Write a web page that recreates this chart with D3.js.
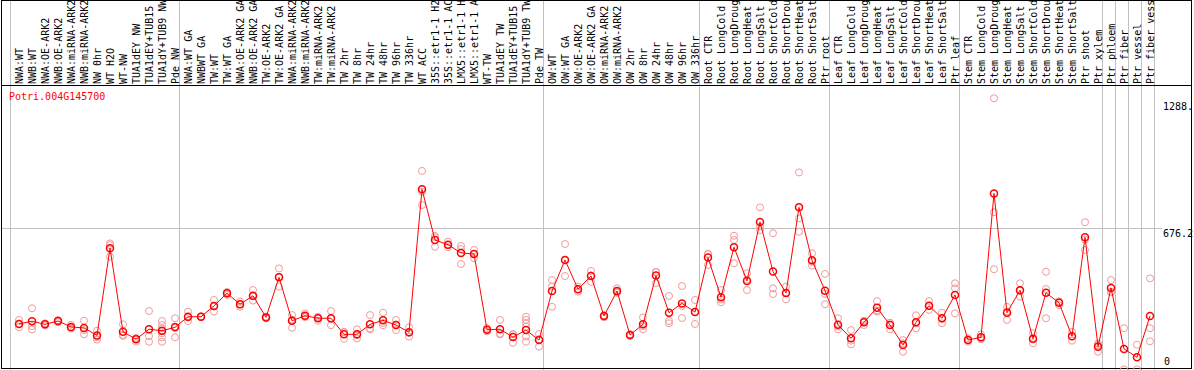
<!DOCTYPE html>
<html>
<head>
<meta charset="utf-8">
<script src="https://cdn.jsdelivr.net/npm/d3@7"></script>
<style>
  body { margin: 0; background: #fff; }
  svg { display: block; }
  text { font-family: "DejaVu Sans Mono", "Liberation Mono", monospace; font-size: 10px; }
</style>
</head>
<body>
<script>
var geneName = "Potri.004G145700";

var samples = [
  "NWA:WT", "NWB:WT", "NWA:OE-ARK2", "NWB:OE-ARK2", "NWA:miRNA-ARK2", "NWB:miRNA-ARK2", "NW 0hr", "WT H2O", "WT-NW",
  "TUA1dEY NW", "TUA1dEY+TUB15", "TUA1dY+TUB9 NW", "Pde NW",
  "NWA:WT GA", "NWBWT GA", "TW:WT", "TW:WT GA", "NWA:OE-ARK2 GA", "NWB:OE-ARK2 GA", "TW:OE-ARK2", "TW:OE-ARK2 GA",
  "NWA:miRNA-ARK2", "NWB:miRNA-ARK2", "TW:miRNA-ARK2", "TW:miRNA-ARK2", "TW 2hr", "TW 8hr", "TW 24hr", "TW 48hr",
  "TW 96hr", "TW 336hr", "WT ACC", "35S::etr1-1 H2O", "35S::etr1-1 ACC", "LMX5::etr1-1 H2O", "LMX5::etr1-1 ACC",
  "WT-TW", "TUA1dEY TW", "TUA1dEY+TUB15", "TUA1dY+TUB9 TW", "Pde TW",
  "OW:WT", "OW:WT GA", "OW:OE-ARK2", "OW:OE-ARK2 GA", "OW:miRNA-ARK2", "OW:miRNA-ARK2", "OW 2hr", "OW 8hr",
  "OW 24hr", "OW 48hr", "OW 96hr", "OW 336hr",
  "Root CTR", "Root LongCold", "Root LongDrought", "Root LongHeat", "Root LongSalt", "Root ShortCold",
  "Root ShortDrought", "Root ShortHeat", "Root ShortSalt", "Ptr root",
  "Leaf CTR", "Leaf LongCold", "Leaf LongDrought", "Leaf LongHeat", "Leaf LongSalt", "Leaf ShortCold",
  "Leaf ShortDrought", "Leaf ShortHeat", "Leaf ShortSalt", "Ptr leaf",
  "Stem CTR", "Stem LongCold", "Stem LongDrought", "Stem LongHeat", "Stem LongSalt", "Stem ShortCold",
  "Stem ShortDrought", "Stem ShortHeat", "Stem ShortSalt", "Ptr shoot", "Ptr xylem",
  "Ptr phloem", "Ptr fiber", "Ptr vessel", "Ptr fiber vessel"
];

// first sample index of each group (last entry = end)
var groupStarts = [0, 13, 41, 53, 63, 73, 84, 85, 86, 87, 88];

var means = [
  222, 235, 220, 236, 208, 203, 168, 579, 185, 150, 197, 190, 206,
  256, 256, 307, 367, 315, 355, 253, 442, 237, 261, 249, 249, 173, 173, 220, 239, 217, 183,
  857, 618, 596, 557, 552, 195, 197, 160, 193, 146,
  377, 524, 386, 448, 260, 377, 170, 220, 450, 275, 319, 278,
  535, 348, 584, 425, 703, 469, 368, 772, 522, 379,
  218, 154, 230, 299, 217, 123, 230, 308, 249, 359,
  146, 159, 838, 275, 381, 152, 369, 322, 164, 631, 115,
  392, 104, 65, 260
];

var replicates = [
  [241, 206, 222], [296, 212, 196], [225, 215, 221], [240, 230, 238], [218, 200, 205], [237, 173, 193],
  [190, 148, 159], [602, 539, 594], [220, 170, 166], [154, 138, 156], [283, 165, 138],
  [236, 217, 201, 178, 159, 138], [249, 159, 210],
  [280, 236, 252], [258, 254, 256], [335, 280, 305], [373, 359, 368], [327, 303, 314], [382, 332, 352],
  [256, 249, 256], [484, 398, 444], [264, 204, 243], [272, 256, 254], [256, 237, 252], [283, 216, 247],
  [183, 152, 185], [197, 154, 169], [264, 197, 200], [275, 216, 227], [241, 193, 217], [206, 162, 180],
  [944, 783, 846], [637, 586, 631], [610, 584, 594], [590, 505, 575], [571, 532, 553], [203, 187, 195],
  [241, 173, 176], [173, 133, 174], [256, 241, 225, 209, 162, 138], [175, 115, 150],
  [429, 398, 303], [599, 448, 524], [398, 374, 385], [472, 421, 451], [263, 253, 262], [390, 369, 373],
  [173, 165, 171], [253, 197, 211], [468, 414, 466], [354, 236, 225], [401, 250, 307], [335, 222, 278],
  [551, 500, 553], [382, 324, 337], [638, 618, 508], [461, 382, 431], [772, 665, 681], [650, 390, 363],
  [398, 338, 368], [937, 720, 657], [555, 497, 515], [458, 315, 364],
  [249, 197, 210], [193, 126, 143], [237, 217, 235], [330, 280, 286], [228, 197, 226], [146, 91, 131],
  [263, 201, 225], [330, 288, 306], [275, 225, 246], [414, 390, 272],
  [154, 138, 146], [173, 150, 154], [1287, 749, 480], [303, 241, 281], [414, 351, 378], [178, 131, 149],
  [468, 387, 249], [327, 311, 328], [185, 143, 163], [702, 571, 620], [123, 91, 130],
  [429, 374, 371], [202, 8], [124, 8], [437, 202, 140]
];

var yTicks = [0, 676.2, 1288];
var yTickLabels = ["0", "676.2", "1288."];

var width = 1194, height = 370;

var svg = d3.select("body").append("svg")
  .attr("width", width)
  .attr("height", height);

var x = d3.scaleBand()
  .domain(d3.range(samples.length))
  .range([10.5, 1154.5]);

var y = d3.scaleLinear()
  .domain([0, 1288])
  .range([371, 98]);

function px(i) { return x(i) + 8.5; }

// group separators (full height)
svg.selectAll(".sep").data(groupStarts).enter()
  .append("line")
  .attr("class", "sep")
  .attr("x1", function (d) { return x(d) === undefined ? x(samples.length - 1) + x.bandwidth() : x(d); })
  .attr("x2", function (d) { return x(d) === undefined ? x(samples.length - 1) + x.bandwidth() : x(d); })
  .attr("y1", 0)
  .attr("y2", height)
  .attr("stroke", "#c0c0c0");

// horizontal grid at the middle tick
svg.append("line")
  .attr("x1", 1)
  .attr("x2", 1162)
  .attr("y1", Math.round(y(yTicks[1])) + 0.5)
  .attr("y2", Math.round(y(yTicks[1])) + 0.5)
  .attr("stroke", "#c0c0c0");

// sample labels, rotated
svg.selectAll(".lab").data(samples).enter()
  .append("text")
  .attr("class", "lab")
  .attr("transform", function (d, i) { return "translate(" + (px(i) + 3.5) + ",84) rotate(-90)"; })
  .attr("fill", "#000")
  .text(function (d) { return d; });

// frame and header divider
svg.append("rect")
  .attr("x", 1.5).attr("y", 0.5)
  .attr("width", 1190).attr("height", 368)
  .attr("fill", "none")
  .attr("stroke", "#000");

svg.append("line")
  .attr("x1", 1).attr("x2", 1192)
  .attr("y1", 85.5).attr("y2", 85.5)
  .attr("stroke", "#000");

svg.append("text")
  .attr("x", 9)
  .attr("y", 100)
  .attr("fill", "#ff0000")
  .text(geneName);

// y labels
svg.selectAll(".ytick").data(yTicks).enter()
  .append("text")
  .attr("class", "ytick")
  .attr("x", function (d, i) { return i === 0 ? 1164 : 1163; })
  .attr("y", function (d, i) { return i === 0 ? y(d) - 6 : (i === 1 ? y(d) + 9 : y(d) + 12); })
  .attr("fill", "#000")
  .text(function (d, i) { return yTickLabels[i]; });

// replicate circles
var repData = [];
replicates.forEach(function (r, i) {
  r.forEach(function (v) { repData.push({ i: i, v: v }); });
});

var plot = svg.append("g");

plot.selectAll(".rep").data(repData).enter()
  .append("circle")
  .attr("class", "rep")
  .attr("cx", function (d) { return px(d.i); })
  .attr("cy", function (d) { return y(d.v); })
  .attr("r", 3.5)
  .attr("fill", "none")
  .attr("stroke", "#f09a9a")
  .attr("stroke-width", 1);

var line = d3.line()
  .x(function (d, i) { return px(i); })
  .y(function (d) { return y(d); });

plot.append("path")
  .datum(means)
  .attr("d", line)
  .attr("fill", "none")
  .attr("stroke", "#ff0000")
  .attr("stroke-width", 1);

plot.selectAll(".mean").data(means).enter()
  .append("circle")
  .attr("class", "mean")
  .attr("cx", function (d, i) { return px(i); })
  .attr("cy", function (d) { return y(d); })
  .attr("r", 3.5)
  .attr("fill", "none")
  .attr("stroke", "#ff0000")
  .attr("stroke-width", 1.5);
</script>
</body>
</html>
